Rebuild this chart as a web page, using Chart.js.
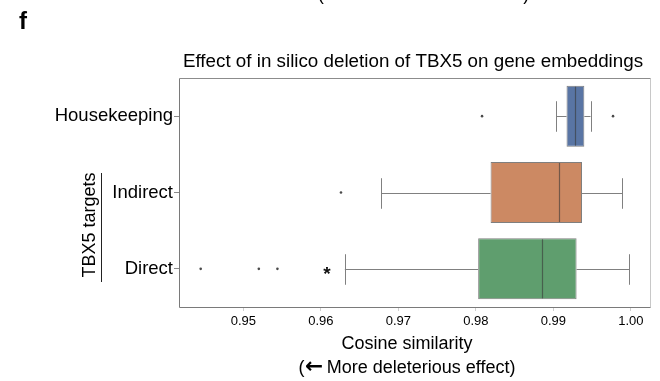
<!DOCTYPE html>
<html>
<head>
<meta charset="utf-8">
<script src="https://cdn.jsdelivr.net/npm/chart.js@4.4.1/dist/chart.umd.min.js"></script>
<style>
  html, body { margin: 0; padding: 0; background: #ffffff; }
  #wrap { width: 660px; height: 381px; }
</style>
</head>
<body>
<div id="wrap"><canvas id="c" width="660" height="381"></canvas></div>
<script>
// Gene groups on the category axis
const categories = ['Housekeeping', 'Indirect', 'Direct'];

// Box-plot summaries of cosine similarity per group
const q1 = [0.9917, 0.9819, 0.9803];
const median = [0.9928, 0.9907, 0.9885];
const q3 = [0.9940, 0.9937, 0.9930];
const whiskerLow = [0.9904, 0.9678, 0.9631];
const whiskerHigh = [0.9948, 0.9989, 0.9998];
const outliers = [
  [0.9808, 0.9977],
  [0.9626],
  [0.9445, 0.9520, 0.9544]
];

// Significance marker on the Direct group
const markerValue = 0.9608;
const markerCategory = 'Direct';

// Value axis
const xTickValues = [0.95, 0.96, 0.97, 0.98, 0.99, 1.00];
const xMin = 0.9417;
const xMax = 1.0026;

const boxColors = ['#5975a4', '#cc8963', '#5f9e6e'];
const FONT = "'Liberation Sans', Arial, Helvetica, sans-serif";
const ARROW_FONT = "'DejaVu Sans', sans-serif";

function crisp(v) { return Math.round(v) + 0.5; }

// "(← More deleterious effect)" with a heavy arrow, centred on cx
function drawDirectionLabel(ctx, cx, baseline, size) {
  const parts = [
    { text: '(', font: size + 'px ' + FONT, gap: 0 },
    { text: '\u2190', font: 'bold ' + (size * 1.2) + 'px ' + ARROW_FONT, gap: 0.5 },
    { text: 'More deleterious effect)', font: size + 'px ' + FONT, gap: size * 0.2 }
  ];
  let total = 0;
  parts.forEach(p => { ctx.font = p.font; p.w = ctx.measureText(p.text).width; total += p.gap + p.w; });
  let xPos = cx - total / 2;
  ctx.textAlign = 'left';
  parts.forEach(p => {
    xPos += p.gap;
    ctx.font = p.font;
    ctx.fillText(p.text, xPos, baseline);
    xPos += p.w;
  });
}

// Whiskers, medians, outlier points and frame drawn from the scales
const boxPlotParts = {
  id: 'boxPlotParts',
  beforeDatasetsDraw(chart) {
    const { ctx, scales: { x, y } } = chart;
    const meta = chart.getDatasetMeta(0);
    ctx.save();
    ctx.strokeStyle = '#808080';
    ctx.lineWidth = 1;
    categories.forEach((c, i) => {
      const bar = meta.data[i];
      const cy = crisp(y.getPixelForValue(i));
      const cap = bar.height / 4;
      const xl = x.getPixelForValue(whiskerLow[i]);
      const xa = x.getPixelForValue(q1[i]);
      const xb = x.getPixelForValue(q3[i]);
      const xh = x.getPixelForValue(whiskerHigh[i]);
      ctx.beginPath();
      ctx.moveTo(xl, cy); ctx.lineTo(xa, cy);
      ctx.moveTo(xb, cy); ctx.lineTo(xh, cy);
      ctx.moveTo(crisp(xl), cy - cap); ctx.lineTo(crisp(xl), cy + cap);
      ctx.moveTo(crisp(xh), cy - cap); ctx.lineTo(crisp(xh), cy + cap);
      ctx.stroke();
    });
    ctx.restore();
  },
  afterDatasetsDraw(chart) {
    const { ctx, chartArea: a, scales: { x, y } } = chart;
    const meta = chart.getDatasetMeta(0);
    ctx.save();
    // medians
    ctx.strokeStyle = 'rgba(55,55,55,0.6)';
    ctx.lineWidth = 1.2;
    categories.forEach((c, i) => {
      const bar = meta.data[i];
      const xm = crisp(x.getPixelForValue(median[i]));
      ctx.beginPath();
      ctx.moveTo(xm, bar.y - bar.height / 2 + 1);
      ctx.lineTo(xm, bar.y + bar.height / 2 - 1);
      ctx.stroke();
    });
    // outliers
    ctx.fillStyle = '#4a4a4a';
    outliers.forEach((list, i) => {
      const cy = y.getPixelForValue(i);
      list.forEach(v => {
        ctx.beginPath();
        ctx.arc(x.getPixelForValue(v), cy, 1.3, 0, Math.PI * 2);
        ctx.fill();
      });
    });
    // significance marker
    ctx.fillStyle = '#111111';
    ctx.font = 'bold 19px ' + FONT;
    ctx.textAlign = 'center';
    ctx.textBaseline = 'alphabetic';
    const my = y.getPixelForValue(categories.indexOf(markerCategory));
    ctx.fillText('*', x.getPixelForValue(markerValue), my + 11);
    // frame
    const L = crisp(a.left), R = crisp(a.right) - 1, T = crisp(a.top), B = crisp(a.bottom);
    ctx.lineWidth = 1;
    ctx.strokeStyle = '#c8c8c8';
    ctx.beginPath(); ctx.moveTo(R, T); ctx.lineTo(R, B); ctx.stroke();
    ctx.strokeStyle = '#8c8c8c';
    ctx.beginPath(); ctx.moveTo(L, T); ctx.lineTo(R, T); ctx.stroke();
    ctx.strokeStyle = '#7a7a7a';
    ctx.beginPath(); ctx.moveTo(L, T); ctx.lineTo(L, B); ctx.lineTo(R, B); ctx.stroke();
    ctx.restore();
  }
};

// Panel letter, title, axis titles and group bracket
const panelText = {
  id: 'panelText',
  afterDraw(chart) {
    const { ctx } = chart;
    ctx.save();
    ctx.fillStyle = '#000000';
    ctx.textBaseline = 'alphabetic';

    // label of the panel above, cut off at the top edge
    drawDirectionLabel(ctx, 423.5, 0, 17.5);

    ctx.textAlign = 'left';
    ctx.font = 'bold 24px ' + FONT;
    ctx.fillText('f', 19, 29);

    ctx.textAlign = 'center';
    ctx.font = '18.8px ' + FONT;
    ctx.fillText('Effect of in silico deletion of TBX5 on gene embeddings', 413, 66.5);

    ctx.font = '18px ' + FONT;
    ctx.fillText('Cosine similarity', 407, 348.5);
    drawDirectionLabel(ctx, 407, 372.7, 18);

    ctx.textAlign = 'center';
    ctx.font = '18px ' + FONT;
    ctx.save();
    ctx.translate(95, 225);
    ctx.rotate(-Math.PI / 2);
    ctx.fillText('TBX5 targets', 0, 0);
    ctx.restore();

    ctx.strokeStyle = '#222222';
    ctx.lineWidth = 1;
    ctx.beginPath();
    ctx.moveTo(101.5, 173);
    ctx.lineTo(101.5, 282);
    ctx.stroke();
    ctx.restore();
  }
};

new Chart(document.getElementById('c'), {
  type: 'bar',
  data: {
    labels: categories,
    datasets: [{
      data: q1.map((v, i) => [v, q3[i]]),
      backgroundColor: boxColors,
      borderColor: '#7f7f7f',
      borderWidth: 1,
      borderSkipped: false,
      categoryPercentage: 1,
      barPercentage: 0.8
    }]
  },
  options: {
    indexAxis: 'y',
    responsive: false,
    animation: false,
    devicePixelRatio: 1,
    layout: { padding: { top: 78, right: 9, left: 0, bottom: 0 } },
    plugins: {
      legend: { display: false },
      tooltip: { enabled: false },
      title: { display: false }
    },
    scales: {
      x: {
        type: 'linear',
        min: xMin,
        max: xMax,
        afterBuildTicks(scale) {
          scale.ticks = xTickValues.map(v => ({ value: v }));
        },
        afterFit(scale) { scale.height = 74; },
        border: { display: false },
        grid: { display: true, drawOnChartArea: false, tickLength: 4, color: '#cfcfcf' },
        ticks: {
          color: '#000000',
          font: { family: FONT, size: 13 },
          padding: 3,
          maxRotation: 0,
          callback: v => Number(v).toFixed(2)
        }
      },
      y: {
        type: 'category',
        offset: true,
        afterFit(scale) { scale.width = 179; },
        border: { display: false },
        grid: { display: true, drawOnChartArea: false, tickLength: 5, color: '#8a8a8a', offset: false },
        ticks: {
          color: '#000000',
          font: { family: FONT, size: 18.5 },
          padding: 1
        }
      }
    }
  },
  plugins: [boxPlotParts, panelText]
});
</script>
</body>
</html>
